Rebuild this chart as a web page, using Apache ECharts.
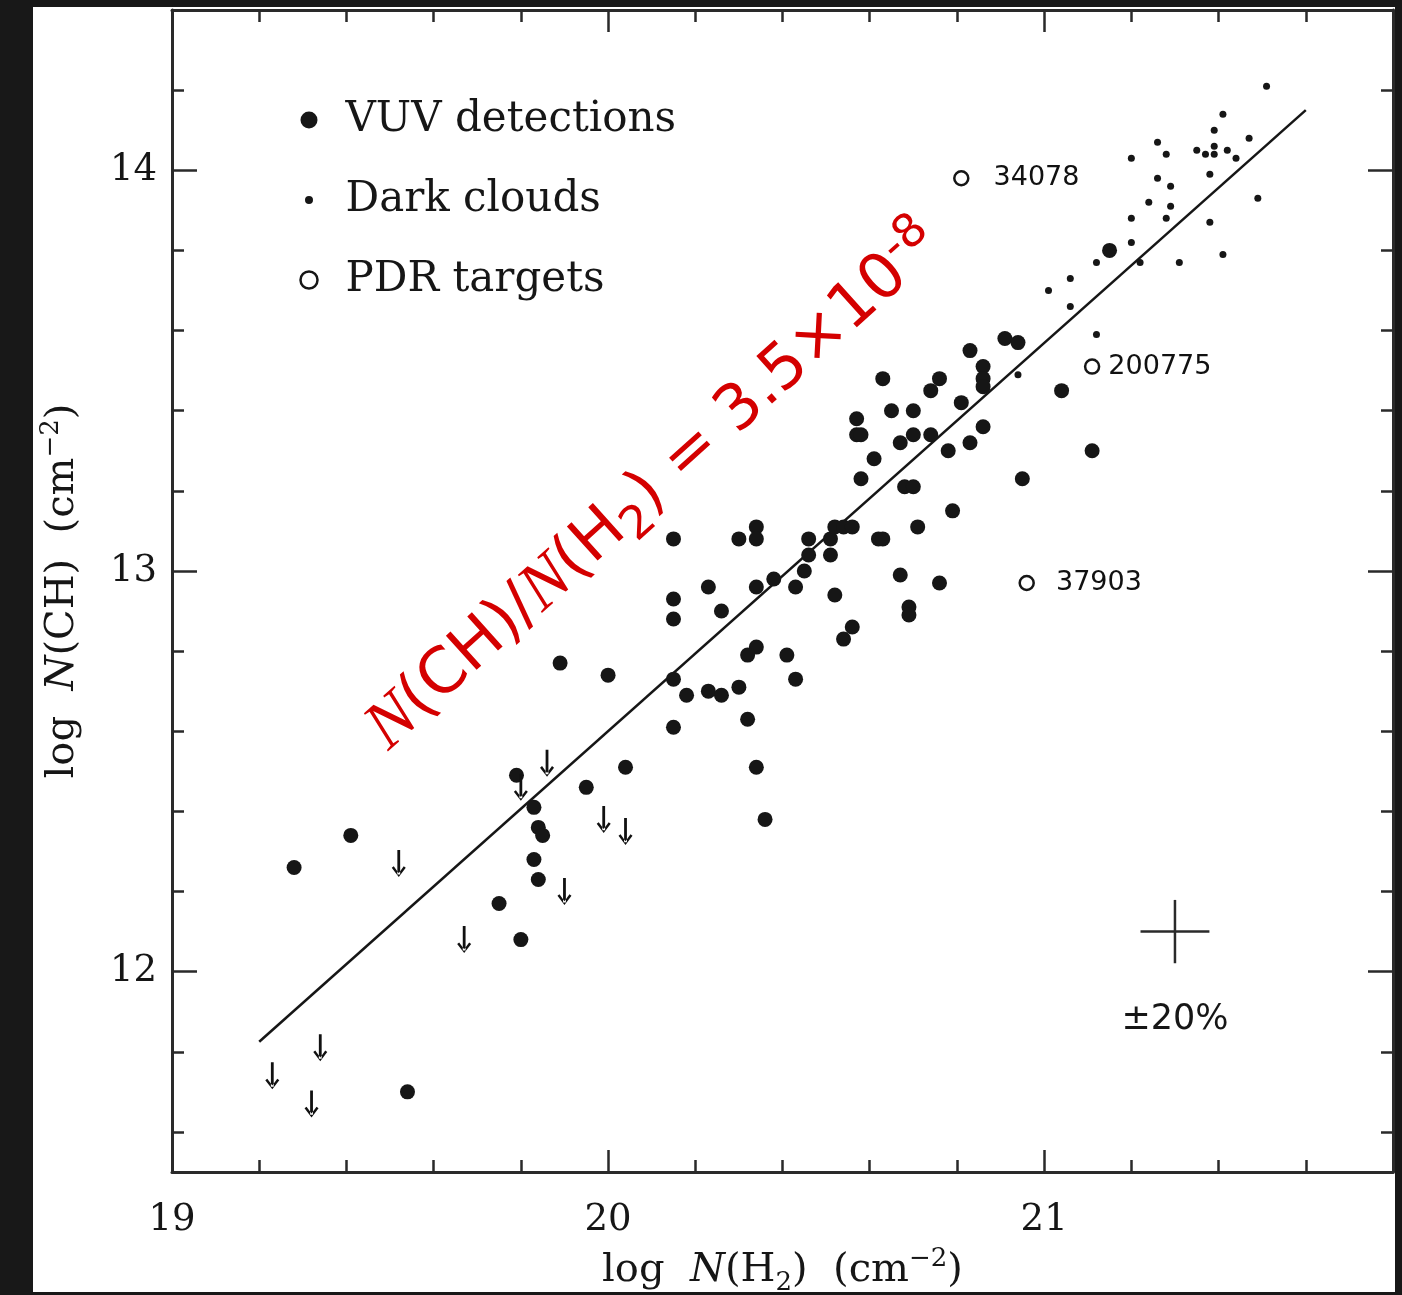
<!DOCTYPE html>
<html><head><meta charset="utf-8">
<script src="https://cdn.jsdelivr.net/npm/echarts@6/dist/echarts.min.js"></script>
<style>html,body{margin:0;padding:0;background:#181818;}#c{width:1402px;height:1295px;}</style>
</head><body><div id="c"></div>
<script>
// ---------- data (log column densities, cm^-2) ----------
const vuvLogH2 = [19.28,19.41,19.54,19.75,19.80,19.79,19.83,19.84,19.85,19.83,19.84,19.95,20.04,19.89,20.00,
  20.15,20.30,20.34,20.34,20.46,20.46,20.45,20.51,20.51,20.52,20.54,20.56,20.62,20.63,20.71,20.79,
  20.23,20.15,20.15,20.26,20.34,20.38,20.43,20.52,20.67,20.76,20.69,20.69,20.56,20.54,20.34,20.32,20.41,20.43,
  20.15,20.18,20.23,20.26,20.30,20.32,20.15,20.34,20.36,
  20.63,20.76,20.74,20.83,20.91,20.94,20.86,20.86,20.86,20.81,20.65,20.70,20.57,20.57,20.58,20.70,20.67,20.74,
  20.78,20.83,20.86,20.61,20.58,20.68,20.70,21.04,21.11,20.95,21.15];
const vuvLogCH = [12.26,12.34,11.70,12.17,12.08,12.49,12.41,12.36,12.34,12.28,12.23,12.46,12.51,12.77,12.74,
  13.08,13.08,13.11,13.08,13.08,13.04,13.00,13.08,13.04,13.11,13.11,13.11,13.08,13.08,13.11,13.15,
  12.96,12.93,12.88,12.90,12.96,12.98,12.96,12.94,12.99,12.97,12.91,12.89,12.86,12.83,12.81,12.79,12.79,12.73,
  12.73,12.69,12.70,12.69,12.71,12.63,12.61,12.51,12.38,
  13.48,13.48,13.45,13.55,13.58,13.57,13.51,13.48,13.46,13.42,13.40,13.40,13.38,13.34,13.34,13.34,13.32,13.34,
  13.30,13.32,13.36,13.28,13.23,13.21,13.21,13.45,13.30,13.23,13.80];
const darkLogH2 = [21.51,21.41,21.39,21.47,21.26,21.20,21.28,21.35,21.37,21.39,21.39,21.42,21.44,21.26,21.29,21.38,
  21.24,21.29,21.28,21.20,21.49,21.38,21.20,21.12,21.22,21.31,21.41,21.06,21.01,21.06,21.12,20.94];
const darkLogCH = [14.21,14.14,14.10,14.08,14.07,14.03,14.04,14.05,14.04,14.06,14.04,14.05,14.03,13.98,13.96,13.99,
  13.92,13.91,13.88,13.88,13.93,13.87,13.82,13.77,13.77,13.77,13.79,13.73,13.70,13.66,13.59,13.49];
const pdrLogH2 = [20.81, 21.11, 20.96];
const pdrLogCH = [13.98, 13.51, 12.97];
const pdrNames = ['34078', '200775', '37903'];
const limLogH2 = [19.86,19.80,19.99,20.04,19.52,19.90,19.67,19.34,19.23,19.32];
const limLogCH = [12.52,12.46,12.38,12.35,12.27,12.20,12.08,11.81,11.74,11.67];
const fitLogH2 = [19.2, 21.6];
const fitLogCH = [11.825, 14.15];
const errCenter = [21.3, 12.1];
const errHalf = 0.079;           // log10(1.2)
const errLabel = '±20%';
const xMajor = [19, 20, 21];
const xMinor = [19.2,19.4,19.6,19.8,20.2,20.4,20.6,20.8,21.2,21.4,21.6];
const yMajor = [12, 13, 14];
const yMinor = [11.6,11.8,12.2,12.4,12.6,12.8,13.2,13.4,13.6,13.8,14.2];
const legendNames = ['VUV detections', 'Dark clouds', 'PDR targets'];

// ---------- chart ----------
const INK = '#161616';
const zip = (a, b) => a.map((v, i) => [v, b[i]]);
const chart = echarts.init(document.getElementById('c'), null, {renderer: 'canvas'});

function mkAxis(kind, pos, ticks, len, main, extra) {
  const a = {
    type: 'value', position: pos,
    min: kind === 'x' ? 19 : 11.5, max: kind === 'x' ? 21.8 : 14.4,
    axisLine: {show: main, onZero: false, lineStyle: {color: '#2a2a2a', width: 3}},
    axisTick: {show: true, inside: true, length: len, customValues: ticks, lineStyle: {color: '#2a2a2a', width: 2.5}},
    axisLabel: {show: false},
    splitLine: {show: false}
  };
  return Object.assign(a, extra || {});
}
const nameRich = {
  i: {fontFamily: 'DejaVu Serif', fontStyle: 'italic', fontSize: 40, color: INK, lineHeight: 50},
  sub: {fontFamily: 'DejaVu Serif', fontSize: 26, color: INK, lineHeight: 26, verticalAlign: 'bottom'},
  sup: {fontFamily: 'DejaVu Serif', fontSize: 26, color: INK, lineHeight: 26, verticalAlign: 'top'}
};
const labelStyle = (m) => ({show: true, margin: m, fontFamily: 'DejaVu Serif', fontSize: 37, color: INK});

const arrowPath = 'path://M5.6 0L8.4 0L8.4 24L5.6 24Z M0 17.5L7 26.5L14 17.5L12 16L7 22.8L2 16Z';

const option = {
  backgroundColor: '#181818',
  animation: false,
  grid: {left: 172, top: 10, right: 9, bottom: 123, containLabel: false, outerBoundsMode: 'none'},
  xAxis: [
    mkAxis('x', 'bottom', xMajor, 22, true, {
      axisLabel: Object.assign(labelStyle(30), {customValues: xMajor}),
      name: 'log  {i|N}(H{sub|2})  (cm{sup|−2})', nameLocation: 'middle', nameGap: 74,
      nameTextStyle: {fontFamily: 'DejaVu Serif', fontSize: 40, color: INK, lineHeight: 50, rich: nameRich}
    }),
    mkAxis('x', 'bottom', xMinor, 12, false),
    mkAxis('x', 'top', xMajor, 22, true),
    mkAxis('x', 'top', xMinor, 12, false)
  ],
  yAxis: [
    mkAxis('y', 'left', yMajor, 25, true, {
      axisLabel: Object.assign(labelStyle(15), {customValues: yMajor}),
      name: 'log  {i|N}(CH)  (cm{sup|−2})', nameLocation: 'middle', nameGap: 84, nameRotate: 90,
      nameTextStyle: {fontFamily: 'DejaVu Serif', fontSize: 40, color: INK, lineHeight: 50, rich: nameRich}
    }),
    mkAxis('y', 'left', yMinor, 12, false),
    mkAxis('y', 'right', yMajor, 25, true),
    mkAxis('y', 'right', yMinor, 12, false)
  ],
  legend: {
    data: [
      {name: legendNames[0], icon: 'circle', itemStyle: {color: INK, borderWidth: 0, opacity: 1}},
      {name: legendNames[1], icon: 'circle', itemStyle: {color: INK, borderColor: '#ffffff', borderWidth: 9, opacity: 1}},
      {name: legendNames[2], icon: 'circle', itemStyle: {color: '#ffffff', borderColor: INK, borderWidth: 2.5, opacity: 1}}
    ],
    orient: 'vertical', left: 296, top: 95, padding: 0,
    itemWidth: 17, itemHeight: 17, itemGap: 30, selectedMode: false,
    textStyle: {fontFamily: 'DejaVu Serif', fontSize: 42, color: INK, lineHeight: 50, padding: [0, 0, 0, 23]}
  },
  graphic: [
    {type: 'rect', silent: true, z: -10, shape: {x: 33, y: 7, width: 1362, height: 1285}, style: {fill: '#ffffff'}},
    {type: 'text', z: 100, silent: true, x: 655, y: 487, rotation: 42 * Math.PI / 180,
      style: {
        text: '{n|N}(CH)/{n|N}(H{s|2}) = 3.5×10{p|-8}',
        fill: '#d40000', fontFamily: 'DejaVu Sans', fontSize: 63, lineHeight: 80,
        align: 'center', verticalAlign: 'middle',
        rich: {
          n: {fontFamily: 'Liberation Serif', fontStyle: 'italic', fontSize: 68, fill: '#d40000', lineHeight: 80},
          s: {fontFamily: 'DejaVu Sans', fontSize: 46, fill: '#d40000', lineHeight: 40, verticalAlign: 'bottom'},
          p: {fontFamily: 'DejaVu Sans', fontSize: 46, fill: '#d40000', lineHeight: 44, verticalAlign: 'top'}
        }
      }}
  ],
  series: [
    {name: legendNames[0], type: 'scatter', data: zip(vuvLogH2, vuvLogCH), symbol: 'circle', symbolSize: 15,
      itemStyle: {color: INK, opacity: 1}, z: 3},
    {name: legendNames[1], type: 'scatter', data: zip(darkLogH2, darkLogCH), symbol: 'circle', symbolSize: 7,
      itemStyle: {color: INK, opacity: 1}, z: 3},
    {name: legendNames[2], type: 'scatter', symbol: 'circle', symbolSize: 14,
      itemStyle: {color: '#ffffff', borderColor: INK, borderWidth: 2.5, opacity: 1}, z: 4,
      data: pdrLogH2.map((x, i) => ({value: [x, pdrLogCH[i]], name: pdrNames[i],
        label: {distance: [24, 8, 21][i]}})),
      label: {show: true, position: 'right', formatter: p => p.name,
        fontFamily: 'DejaVu Sans', fontSize: 27, color: '#111111', opacity: 1}},
    {name: 'Upper limits', type: 'scatter', data: zip(limLogH2, limLogCH), symbol: arrowPath,
      symbolSize: [14, 27], itemStyle: {color: '#111111', opacity: 1}, z: 3},
    {name: 'Fit', type: 'line', data: zip(fitLogH2, fitLogCH), symbol: 'none',
      lineStyle: {color: INK, width: 2.5, opacity: 1}, z: 2},
    {name: 'Error', type: 'custom', data: [[errCenter[0], errCenter[1], errHalf]], silent: true, z: 3,
      encode: {x: 0, y: 1},
      renderItem: function (params, api) {
        const x = api.value(0), y = api.value(1), h = api.value(2);
        const l = api.coord([x - h, y]), r = api.coord([x + h, y]);
        const t = api.coord([x, y + h]), b = api.coord([x, y - h]);
        return {type: 'group', children: [
          {type: 'line', shape: {x1: l[0], y1: l[1], x2: r[0], y2: r[1]}, style: {stroke: '#2a2a2a', lineWidth: 2.5}},
          {type: 'line', shape: {x1: t[0], y1: t[1], x2: b[0], y2: b[1]}, style: {stroke: '#2a2a2a', lineWidth: 2.5}},
          {type: 'text', x: b[0], y: b[1] + 57, style: {text: errLabel, fill: INK,
            font: '35px "DejaVu Sans"', align: 'center', verticalAlign: 'middle'}}
        ]};
      }}
  ]
};
chart.setOption(option);
</script></body></html>
